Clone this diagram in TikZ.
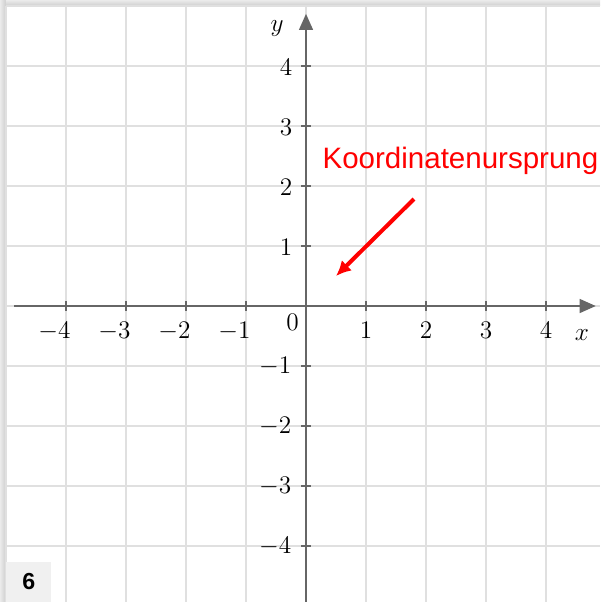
\documentclass[tikz,border=0pt]{standalone}
\usepackage{fontspec}
\newfontfamily\labelfont{Liberation Sans}
\usetikzlibrary{arrows.meta,positioning}
\definecolor{GridL} {RGB}{224,224,224}
\definecolor{AxisG} {RGB}{102,102,102}
\definecolor{ShadeG}{RGB}{205,205,205}
\definecolor{BoxG}  {RGB}{240,240,240}
\definecolor{RedM}  {RGB}{255,0,0}

\begin{document}
\begin{tikzpicture}[
    axis/.style={AxisG,line width=1pt,-{Triangle[length=0.27cm,width=0.23cm]}},
    tickmark/.style={AxisG,line width=0.8pt},
    ticklbl/.style={font=\fontsize{12.5}{14}\selectfont,inner sep=0pt},
  ]
  \useasboundingbox (-5.1,-4.933) rectangle (4.9,5.1);
  \fill[white] (-5.1,-4.933) rectangle (4.9,5.1);
  \shade[left color=ShadeG!40,right color=ShadeG] (-5.1,-4.933) rectangle (-5,5.1);
  \shade[top color=ShadeG!40,bottom color=ShadeG] (-5,5) rectangle (4.9,5.1);
  \draw[GridL,line width=1pt] (-5,-4.933) grid (4.9,5);

  \node[fill=BoxG,minimum width=0.75cm,minimum height=0.667cm,anchor=south west,
        inner sep=0pt,font=\labelfont\bfseries\fontsize{11}{13}\selectfont] (page) at (-5,-4.933) {6};

  \coordinate (xmin) at (-4.87,0);
  \coordinate (xmax) at (4.83,0);
  \coordinate (ymin) at (0,-4.933);
  \coordinate (ymax) at (0,4.87);
  \draw[axis] (xmin) -- (xmax);
  \draw[axis] (ymin) -- (ymax);

  \foreach \k in {1,2,3,4}{
    \draw[tickmark] (\k,-0.08) -- (\k,0.08);
    \draw[tickmark] (-\k,-0.08) -- (-\k,0.08);
    \draw[tickmark] (-0.08,\k) -- (0.08,\k);
    \draw[tickmark] (-0.08,-\k) -- (0.08,-\k);
    \node[ticklbl,anchor=north] (xp\k) at (\k,-0.27) {$\k$};
    \node[ticklbl,anchor=north] (xn\k) at (-\k-0.03,-0.27) {$\llap{$-$}\k$};
    \node[ticklbl,anchor=east] (yp\k) at (-0.22,\k-0.03) {$\k$};
    \node[ticklbl,anchor=east] (yn\k) at (-0.24,-\k) {$-\k$};
  }
  \node[ticklbl] (zero) at (-0.225,-0.28) {$0$};
  \node[ticklbl] (xlbl) at (4.6,-0.48) {$x$};
  \node[ticklbl] (ylbl) at (-0.48,4.63) {$y$};

  \node[anchor=base west,inner sep=0pt,text=RedM,
        font=\labelfont\fontsize{14}{16}\selectfont] (origlbl) at (0.27,2.3) {Koordinatenursprung};
  \coordinate (arrS) at (1.8,1.783);
  \coordinate (arrE) at (0.5,0.5);
  \draw[RedM,line width=1.9pt,-{Latex[length=0.25cm,width=0.24cm]}] (arrS) -- (arrE);
\end{tikzpicture}
\end{document}
